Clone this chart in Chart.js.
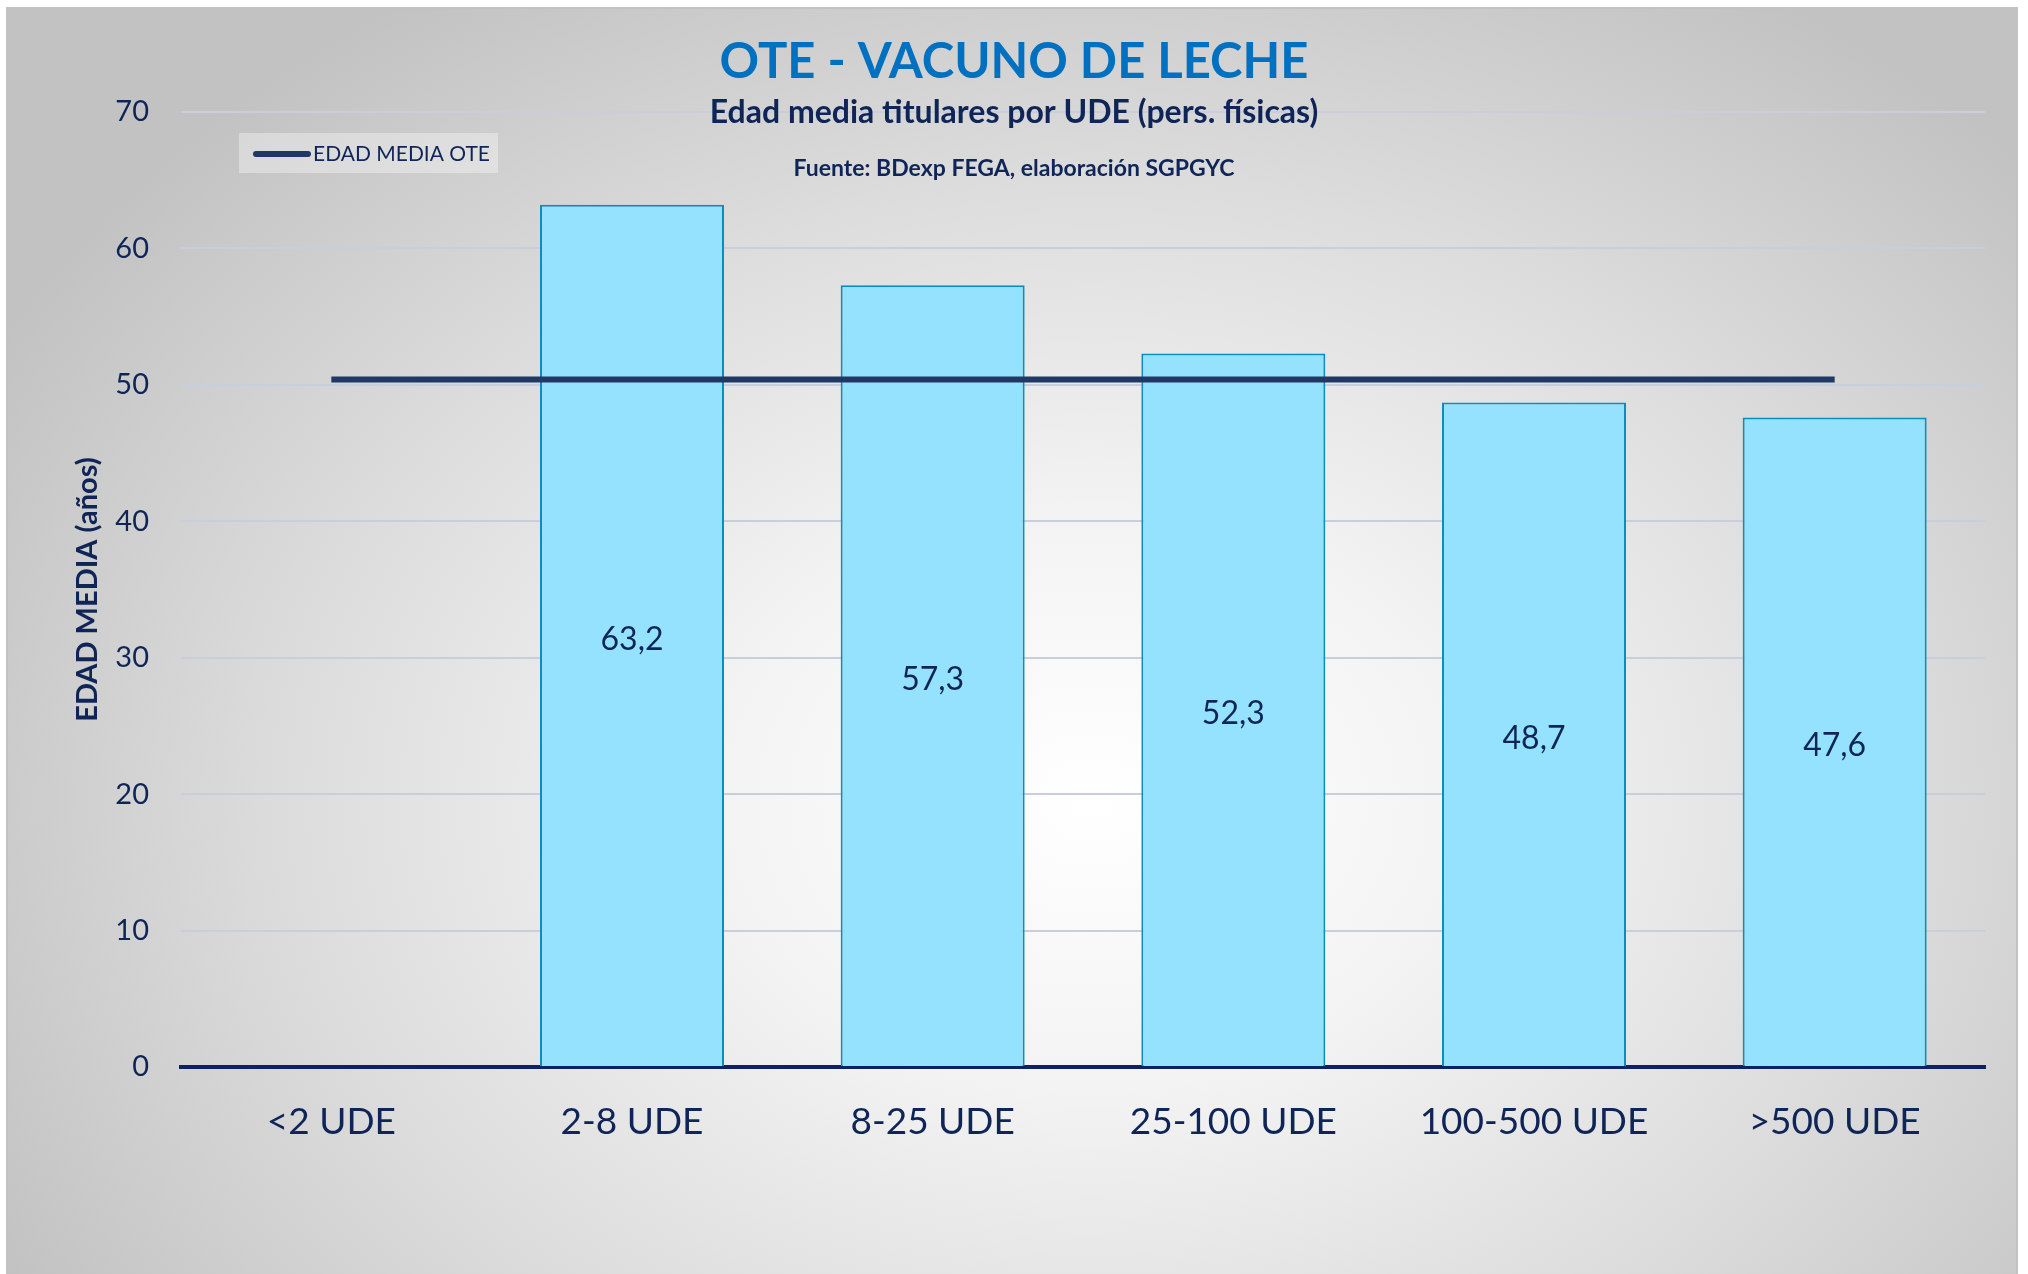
<!DOCTYPE html>
<html><head><meta charset="utf-8">
<script src="https://cdn.jsdelivr.net/npm/chart.js@4.4.1/dist/chart.umd.min.js"></script>
<style>
html,body{margin:0;padding:0;background:#fff;width:2028px;height:1274px;overflow:hidden;}
#frame{position:absolute;left:6px;top:7px;width:2012px;height:1280px;border:2px solid #c2c2c2;box-sizing:border-box;
background:radial-gradient(ellipse 62% 75% at 54% 62%, #ffffff 0%, #f3f3f3 30%, #dcdcdc 65%, #c2c2c2 100%);}
#wrap{position:absolute;left:0;top:0;width:2028px;height:1274px;}
</style></head><body>
<div id="frame"></div>
<div id="wrap"><canvas id="c" width="2028" height="1274"></canvas></div>
<script>
// ---- data ----
const categories = ['<2 UDE', '2-8 UDE', '8-25 UDE', '25-100 UDE', '100-500 UDE', '>500 UDE'];
const edadMedia = [null, 63.2, 57.3, 52.3, 48.7, 47.6];
const edadMediaOte = [50.4, 50.4, 50.4, 50.4, 50.4, 50.4];
const yMin = 0, yMax = 70, yStep = 10;
const titleText = 'OTE - VACUNO DE LECHE';
const subtitleText = 'Edad media titulares por UDE (pers. físicas)';
const sourceText = 'Fuente: BDexp FEGA, elaboración SGPGYC';
const yAxisTitle = 'EDAD MEDIA (años)';
const lineLabel = 'EDAD MEDIA OTE';

const NAVY = '#0F2557';
const FONT = 'Lato, "Open Sans", sans-serif';

const textPlugin = {
  id: 'texts',
  afterDraw(chart) {
    const ctx = chart.ctx;
    ctx.save();
    ctx.textAlign = 'center';
    ctx.textBaseline = 'middle';
    ctx.fillStyle = '#0070C0';
    ctx.font = 'bold 49px ' + FONT;
    ctx.fillText(titleText, 1014, 62);
    ctx.fillStyle = NAVY;
    ctx.font = 'bold 32px ' + FONT;
    ctx.fillText(subtitleText, 1014, 113);
    ctx.font = 'bold 23px ' + FONT;
    ctx.fillText(sourceText, 1014, 169);
    // legend
    const ds = chart.data.datasets[0];
    ctx.fillStyle = 'rgba(255,255,255,0.35)';
    ctx.fillRect(239, 133, 259, 40);
    ctx.strokeStyle = ds.borderColor;
    ctx.lineWidth = 6;
    ctx.lineCap = 'round';
    ctx.beginPath(); ctx.moveTo(256, 154); ctx.lineTo(308, 154); ctx.stroke();
    ctx.textAlign = 'left';
    ctx.fillStyle = NAVY;
    ctx.font = '21px ' + FONT;
    ctx.fillText(ds.label, 313, 154);
    ctx.restore();
  },
  afterDatasetsDraw(chart) {
    const ctx = chart.ctx;
    const meta = chart.getDatasetMeta(1);
    ctx.save();
    ctx.textAlign = 'center';
    ctx.textBaseline = 'middle';
    ctx.fillStyle = NAVY;
    ctx.font = '32px ' + FONT;
    meta.data.forEach((el, i) => {
      const v = chart.data.datasets[1].data[i];
      if (v === null || v === undefined) return;
      ctx.fillText(v.toFixed(1).replace('.', ','), el.x, (el.y + el.base) / 2 + 4);
    });
    ctx.restore();
  }
};

new Chart(document.getElementById('c'), {
  data: {
    labels: categories,
    datasets: [
      {
        type: 'line', label: lineLabel, data: edadMediaOte,
        borderColor: '#203864', borderWidth: 6, pointRadius: 0, order: 0, borderCapStyle: 'butt'
      },
      {
        type: 'bar', label: 'Edad media', data: edadMedia,
        backgroundColor: '#94E2FE', borderColor: '#0E8CC0', borderWidth: 2,
        barPercentage: 0.612, categoryPercentage: 1.0, order: 1
      }
    ]
  },
  options: {
    responsive: false, animation: false, devicePixelRatio: 1,
    layout: { padding: { top: 112, right: 43, left: 0, bottom: 0 } },
    plugins: { legend: { display: false }, tooltip: { enabled: false }, title: { display: false } },
    scales: {
      x: {
        grid: { display: false, drawTicks: false },
        border: { display: true, color: '#0B2461', width: 4 },
        ticks: { color: NAVY, font: { family: FONT, size: 37 }, padding: 33 },
        afterFit(s) { s.height = 207; }
      },
      y: {
        min: yMin, max: yMax,
        grid: {
          drawTicks: false,
          color: c => c.tick && c.tick.value === 0 ? 'rgba(0,0,0,0)' : '#c9cddc',
          lineWidth: 2
        },
        border: { display: false },
        ticks: { stepSize: yStep, color: NAVY, font: { family: FONT, size: 29 }, padding: 32 },
        title: { display: true, text: yAxisTitle, color: NAVY, font: { family: FONT, size: 29, weight: 'bold' }, padding: { top: 70, bottom: 0 } },
        afterFit(s) { s.width = 181; }
      }
    }
  },
  plugins: [textPlugin]
});
</script>
</body></html>
